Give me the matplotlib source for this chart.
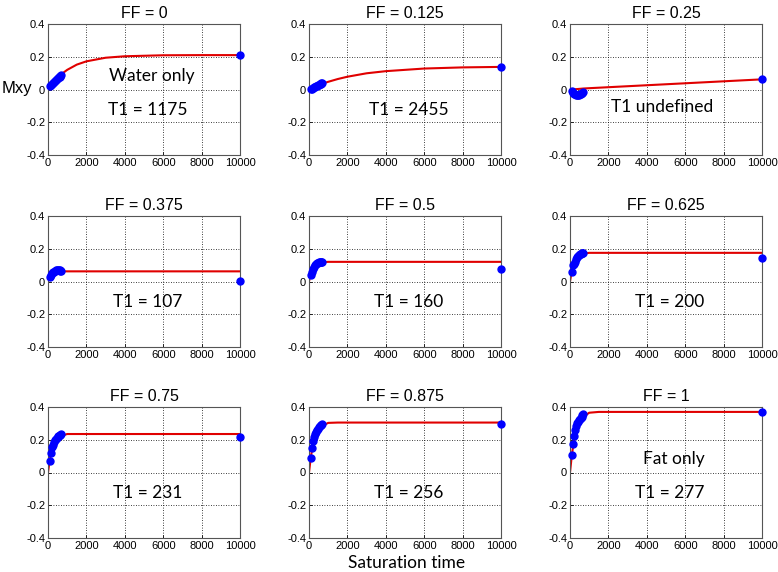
import matplotlib
matplotlib.use("Agg")
import matplotlib.pyplot as plt
import numpy as np

# fat fractions, one panel each
ff_labels = ["0", "0.125", "0.25", "0.375", "0.5", "0.625", "0.75", "0.875", "1"]
t1_labels = ["T1 = 1175", "T1 = 2455", "T1 undefined", "T1 = 107", "T1 = 160",
             "T1 = 200", "T1 = 231", "T1 = 256", "T1 = 277"]
extra_labels = {0: "Water only", 8: "Fat only"}

# measured saturation times (ms) and signal
t_meas = [80, 140, 200, 250, 300, 350, 400, 450, 500, 550, 600, 650, 700, 10000]
m_meas = [
    [0.020, 0.025, 0.032, 0.040, 0.047, 0.053, 0.058, 0.063, 0.068, 0.074, 0.079, 0.084, 0.090, 0.210],
    [0.002, 0.005, 0.010, 0.014, 0.018, 0.021, 0.024, 0.027, 0.030, 0.033, 0.036, 0.039, 0.042, 0.136],
    [-0.012, -0.020, -0.026, -0.029, -0.031, -0.032, -0.032, -0.031, -0.029, -0.027, -0.024, -0.020, -0.016, 0.065],
    [0.030, 0.040, 0.050, 0.056, 0.061, 0.065, 0.068, 0.070, 0.070, 0.070, 0.068, 0.066, 0.063, 0.005],
    [0.042, 0.060, 0.076, 0.090, 0.100, 0.106, 0.111, 0.115, 0.118, 0.120, 0.121, 0.121, 0.120, 0.078],
    [0.055, 0.098, 0.107, 0.122, 0.138, 0.148, 0.155, 0.160, 0.165, 0.169, 0.172, 0.174, 0.175, 0.146],
    [0.072, 0.122, 0.156, 0.168, 0.186, 0.199, 0.206, 0.212, 0.220, 0.225, 0.229, 0.231, 0.233, 0.218],
    [0.088, 0.148, 0.190, 0.218, 0.238, 0.250, 0.260, 0.268, 0.275, 0.281, 0.288, 0.293, 0.297, 0.298],
    [0.105, 0.175, 0.225, 0.262, 0.282, 0.300, 0.311, 0.320, 0.329, 0.335, 0.341, 0.349, 0.355, 0.370],
]

# fitted recovery curves
t_fit = [0, 100, 200, 300, 400, 500, 700, 1000, 1500, 2000, 3000, 4000, 6000, 8000, 10000]
m_fit = [
    [0.0, 0.017, 0.033, 0.047, 0.060, 0.072, 0.094, 0.120, 0.152, 0.172, 0.194, 0.203, 0.209, 0.210, 0.210],
    [0.0, 0.006, 0.011, 0.016, 0.021, 0.026, 0.035, 0.047, 0.064, 0.078, 0.099, 0.112, 0.128, 0.135, 0.138],
    [0.0, 0.0, 0.001, 0.002, 0.003, 0.004, 0.006, 0.008, 0.011, 0.014, 0.020, 0.026, 0.038, 0.050, 0.062],
    [0.0, 0.038, 0.052, 0.058, 0.060, 0.061, 0.062, 0.062, 0.062, 0.062, 0.062, 0.062, 0.062, 0.062, 0.062],
    [0.0, 0.056, 0.085, 0.102, 0.110, 0.115, 0.118, 0.120, 0.120, 0.120, 0.120, 0.120, 0.120, 0.120, 0.120],
    [0.0, 0.069, 0.110, 0.136, 0.151, 0.161, 0.170, 0.175, 0.175, 0.175, 0.175, 0.175, 0.175, 0.175, 0.175],
    [0.0, 0.083, 0.137, 0.171, 0.194, 0.208, 0.224, 0.235, 0.235, 0.235, 0.235, 0.235, 0.235, 0.235, 0.235],
    [0.0, 0.098, 0.165, 0.211, 0.242, 0.264, 0.285, 0.303, 0.305, 0.305, 0.305, 0.305, 0.305, 0.305, 0.305],
    [0.0, 0.110, 0.190, 0.245, 0.283, 0.310, 0.340, 0.365, 0.370, 0.370, 0.370, 0.370, 0.370, 0.370, 0.370],
]

x_ticks = [0, 2000, 4000, 6000, 8000, 10000]
y_ticks = [-0.4, -0.2, 0, 0.2, 0.4]
y_tick_labels = ["-0.4", "-0.2", "0", "0.2", "0.4"]

W, H = 778, 572
fig = plt.figure(figsize=(W / 100, H / 100), dpi=100)
fig.patch.set_facecolor("white")

lefts = [48, 309, 570]
tops = [24, 216, 407]
aw, ah = 192, 131

sans = ["Liberation Sans", "DejaVu Sans"]
note_font = ["Lato", "DejaVu Sans"]

for i in range(9):
    r, c = divmod(i, 3)
    ax = fig.add_axes([lefts[c] / W, 1 - (tops[r] + ah) / H, aw / W, ah / H])
    ax.plot(t_fit, m_fit[i], color="#e00000", lw=1.5, zorder=2)
    ax.plot(t_meas, m_meas[i], "o", color="#0000ff", ms=5, mec="#0000ff", zorder=3,
            clip_on=False)
    ax.set_xlim(0, 10000)
    ax.set_ylim(-0.4, 0.4)
    ax.set_xticks(x_ticks)
    ax.set_xticklabels([str(v) for v in x_ticks], family=sans, fontsize=8)
    ax.set_yticks(y_ticks)
    ax.set_yticklabels(y_tick_labels, family=sans, fontsize=8)
    ax.tick_params(direction="in", length=2.5, width=0.6, pad=2, colors="black")
    ax.grid(True, color="black", ls=(0, (1, 2)), lw=0.6)
    for s in ax.spines.values():
        s.set_color("#555555")
        s.set_linewidth(0.8)
    ax.set_title("FF = " + ff_labels[i], family=sans, fontsize=11.5, pad=4)
    t1_x = 4800 if i == 2 else 5200
    t1_y = -0.105 if i == 2 else -0.125
    ax.text(t1_x, t1_y, t1_labels[i], ha="center", va="center",
            family=note_font, fontsize=12.5)
    if i in extra_labels:
        ax.text(5400, 0.085, extra_labels[i], ha="center", va="center",
                family=note_font, fontsize=12.5)

fig.text(17 / W, 1 - 89 / H, "Mxy", ha="center", va="center", family=sans, fontsize=12)
fig.text(407 / W, 1 - 563 / H, "Saturation time", ha="center", va="center",
         family=note_font, fontsize=12.5)

fig.savefig("out.png", dpi=100)
